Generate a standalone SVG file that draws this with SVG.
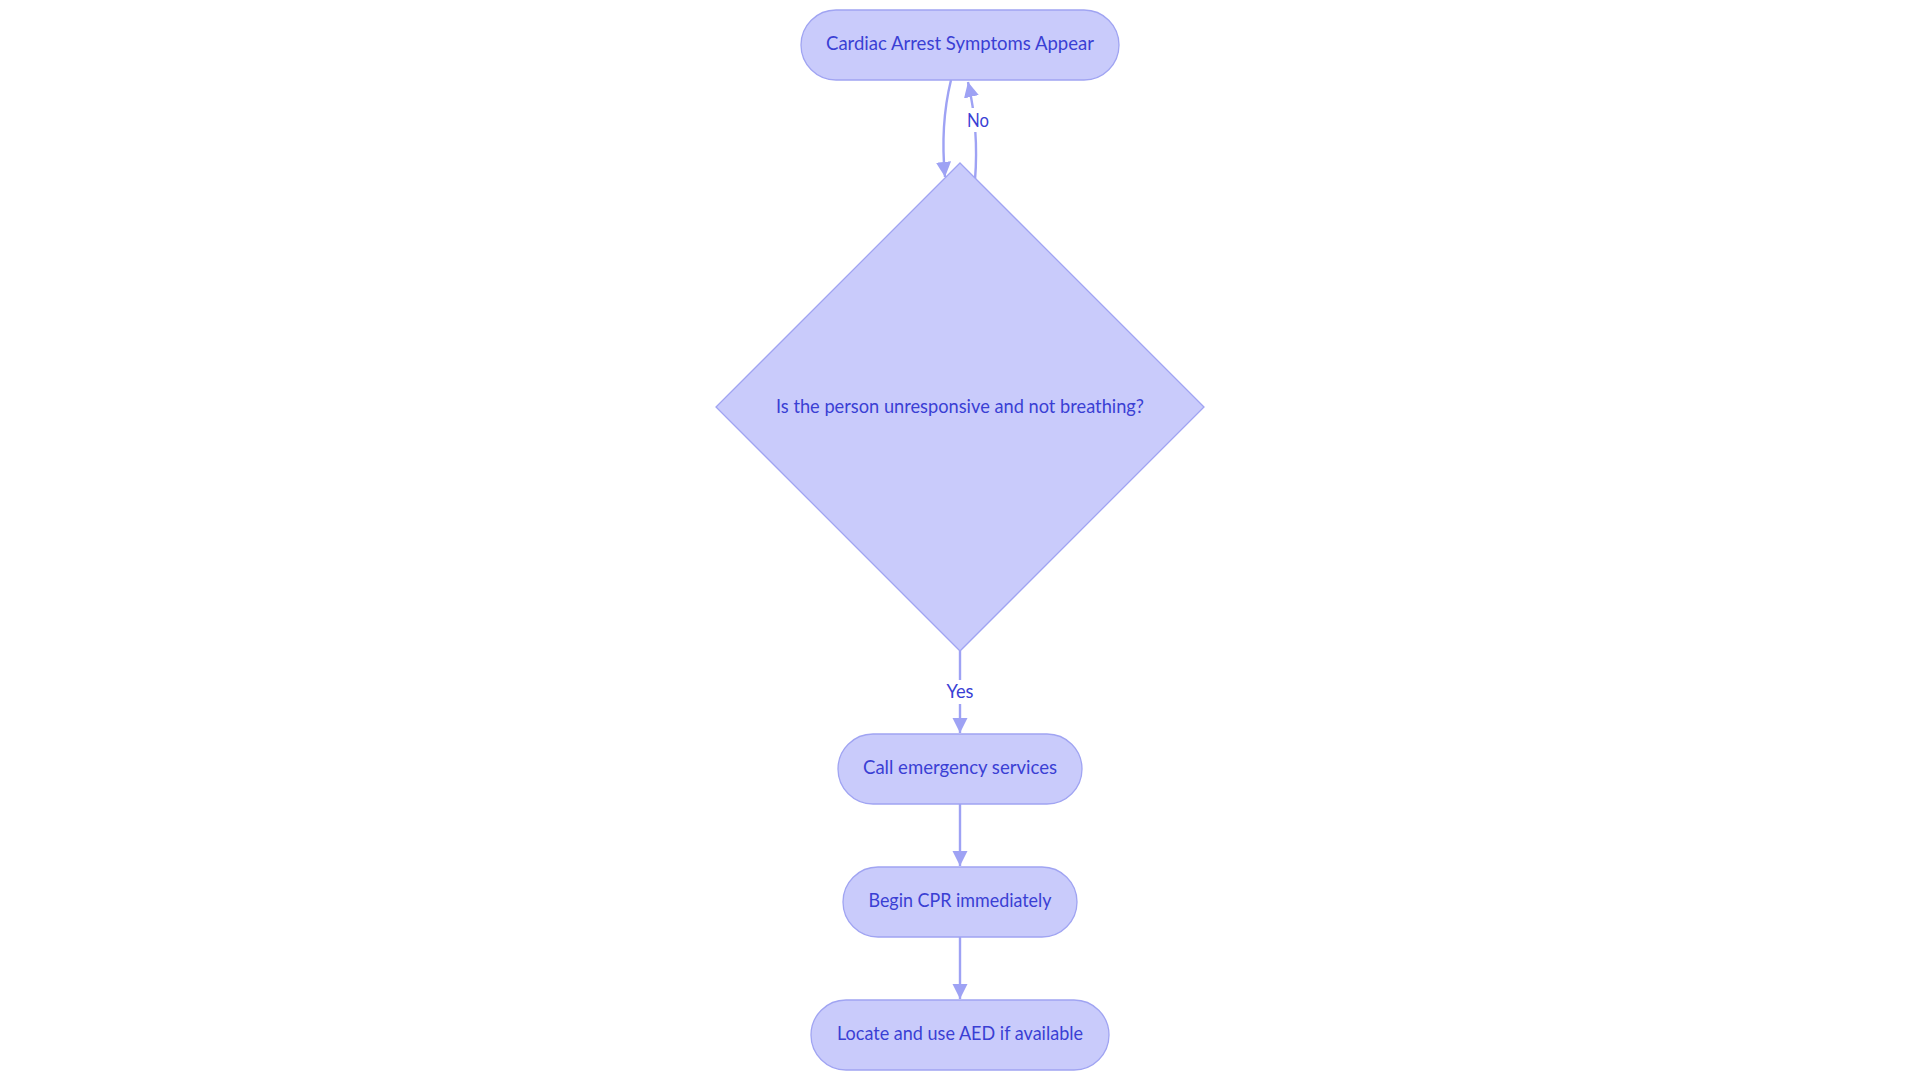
<svg xmlns="http://www.w3.org/2000/svg" width="1920" height="1083" viewBox="0 0 1920 1083">
<defs>
<style>
.node{fill:#C9CBFB;stroke:#A0A4F2;stroke-width:1.3}
.lbl{font-family:Lato,"Open Sans","Liberation Sans",sans-serif;font-size:19px;fill:#3A3FD4;text-anchor:middle}
.edge{fill:none;stroke:#9EA2F4;stroke-width:2.4}
.elbl{fill:#FFFFFF}
</style>
<marker id="arr" viewBox="0 0 10 10" refX="10" refY="5" markerWidth="6.3" markerHeight="6.8" markerUnits="strokeWidth" orient="auto">
<path d="M0,0 L10,5 L0,10 z" fill="#9EA2F4"/>
</marker>
</defs>
<rect width="1920" height="1083" fill="#FFFFFF"/>
<g id="edges">
<path class="edge" d="M951,80 Q940,125 945,177" marker-end="url(#arr)"/>
<path class="edge" d="M975,180 Q979,130 968,82" marker-end="url(#arr)"/>
<path class="edge" d="M960,651 L960,733" marker-end="url(#arr)"/>
<path class="edge" d="M960,804 L960,866" marker-end="url(#arr)"/>
<path class="edge" d="M960,937 L960,999" marker-end="url(#arr)"/>
<rect class="elbl" x="964" y="108" width="28" height="24"/>
<text class="lbl" x="978" y="127" textLength="22" lengthAdjust="spacingAndGlyphs">No</text>
<rect class="elbl" x="944" y="680" width="32" height="24"/>
<text class="lbl" x="960" y="698" textLength="27" lengthAdjust="spacingAndGlyphs">Yes</text>
</g>
<g id="n1">
<rect class="node" x="801" y="10" width="318" height="70" rx="35"/>
<text class="lbl" x="960" y="50" textLength="268" lengthAdjust="spacingAndGlyphs">Cardiac Arrest Symptoms Appear</text>
</g>
<g id="n2">
<polygon class="node" points="960,163 1204,407 960,651 716,407"/>
<text class="lbl" x="960" y="413" textLength="368" lengthAdjust="spacingAndGlyphs">Is the person unresponsive and not breathing?</text>
</g>
<g id="n3">
<rect class="node" x="838" y="734" width="244" height="70" rx="35"/>
<text class="lbl" x="960" y="774" textLength="194" lengthAdjust="spacingAndGlyphs">Call emergency services</text>
</g>
<g id="n4">
<rect class="node" x="843" y="867" width="234" height="70" rx="35"/>
<text class="lbl" x="960" y="907" textLength="183" lengthAdjust="spacingAndGlyphs">Begin CPR immediately</text>
</g>
<g id="n5">
<rect class="node" x="811" y="1000" width="298" height="70" rx="35"/>
<text class="lbl" x="960" y="1040" textLength="246" lengthAdjust="spacingAndGlyphs">Locate and use AED if available</text>
</g>
</svg>
